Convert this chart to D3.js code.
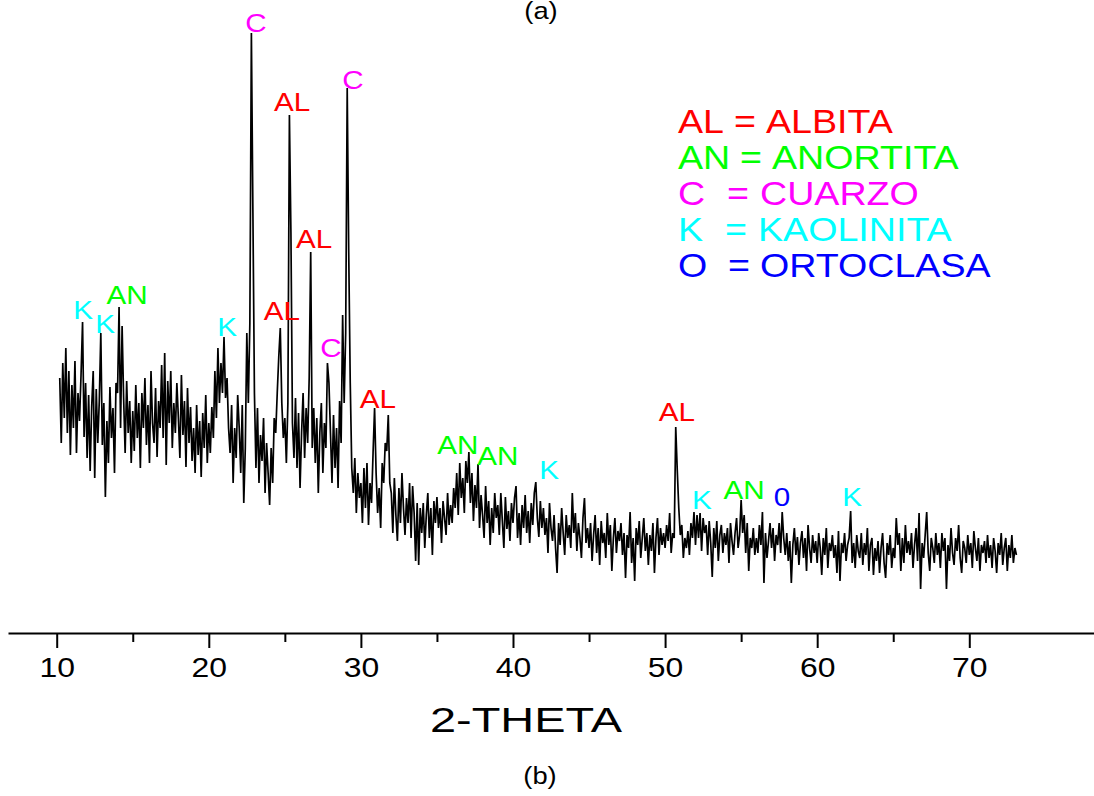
<!DOCTYPE html>
<html>
<head>
<meta charset="utf-8">
<script src="https://cdn.jsdelivr.net/npm/d3@7"></script>
<style>
  html, body { margin: 0; padding: 0; background: #fff; }
  svg { display: block; }
  text { font-family: "Liberation Sans", Arial, sans-serif; }
</style>
</head>
<body>
<svg id="chart" width="1094" height="796"></svg>
<script>
// Diffractogram sampled every 0.1 degree 2-theta, starting at 10.2
const thetaStart = 10.2;
const thetaStep = 0.1;
const intensity = [
  /* 10.2 */ 255, 190, 270, 215, 285, 200, 262, 178,
  /* 11 */ 248, 205, 272, 180, 240, 212, 258, 311, 196, 250,
  /* 12 */ 175, 238, 162, 226, 262, 155, 244, 190, 232, 300,
  /* 13 */ 188, 230, 136, 212, 170, 246, 195, 225, 160, 250,
  /* 14 */ 240, 326, 205, 307, 235, 180, 252, 200, 232, 170,
  /* 15 */ 222, 182, 248, 195, 230, 165, 240, 205, 255, 188,
  /* 16 */ 228, 170, 262, 210, 190, 245, 176, 232, 205, 268,
  /* 17 */ 195, 280, 168, 252, 210, 262, 185, 230, 200, 250,
  /* 18 */ 215, 175, 258, 198, 232, 166, 245, 190, 226, 172,
  /* 19 */ 205, 160, 228, 178, 212, 156, 220, 185, 238, 170,
  /* 20 */ 210, 180, 226, 195, 262, 215, 285, 230, 270, 240,
  /* 21 */ 296, 235, 255, 205, 180, 228, 150, 205, 175, 238,
  /* 22 */ 205, 160, 228, 130, 185, 300, 230, 310, 600, 420,
  /* 23 */ 240, 165, 225, 150, 198, 172, 215, 140, 190, 160,
  /* 24 */ 128, 185, 150, 215, 200, 240, 276, 305, 230, 195,
  /* 25 */ 215, 170, 230, 518, 400, 210, 175, 235, 165, 220,
  /* 26 */ 145, 200, 240, 175, 225, 190, 255, 381, 185, 225,
  /* 27 */ 170, 215, 140, 200, 230, 160, 210, 185, 270, 250,
  /* 28 */ 200, 150, 218, 165, 205, 145, 232, 190, 318, 230,
  /* 29 */ 300, 545, 380, 250, 165, 140, 175, 120, 160, 135,
  /* 30 */ 150, 110, 165, 125, 170, 108, 150, 130, 180, 225,
  /* 31 */ 160, 120, 145, 105, 170, 150, 190, 182, 218, 150,
  /* 32 */ 140, 100, 155, 118, 92, 145, 110, 160, 125, 98,
  /* 33 */ 135, 110, 150, 95, 147, 120, 72, 130, 68, 125,
  /* 34 */ 100, 130, 85, 118, 140, 95, 125, 78, 132, 110,
  /* 35 */ 136, 105, 125, 90, 132, 115, 98, 140, 108, 128,
  /* 36 */ 110, 145, 125, 160, 118, 170, 135, 155, 120, 172,
  /* 37 */ 150, 181, 130, 160, 112, 148, 125, 169, 105, 138,
  /* 38 */ 118, 95, 147, 110, 132, 88, 125, 100, 140, 115,
  /* 39 */ 128, 98, 140, 112, 85, 136, 104, 122, 92, 130,
  /* 40 */ 110, 135, 147, 95, 120, 88, 128, 105, 138, 100,
  /* 41 */ 122, 90, 130, 108, 140, 151, 115, 96, 132, 105,
  /* 42 */ 125, 98, 115, 80, 130, 105, 92, 118, 85, 60,
  /* 43 */ 110, 88, 125, 100, 78, 118, 95, 108, 85, 140,
  /* 44 */ 100, 120, 82, 110, 95, 75, 115, 135, 90, 105,
  /* 45 */ 85, 110, 72, 98, 118, 80, 105, 68, 112, 90,
  /* 46 */ 100, 75, 120, 88, 108, 62, 95, 115, 80, 102,
  /* 47 */ 92, 110, 78, 100, 55, 98, 85, 121, 70, 95,
  /* 48 */ 52, 105, 88, 112, 75, 95, 115, 82, 100, 68,
  /* 49 */ 98, 82, 110, 60, 95, 115, 78, 105, 88, 100,
  /* 50 */ 85, 108, 92, 120, 80, 100, 95, 206, 163, 125,
  /* 51 */ 98, 108, 75, 95, 85, 102, 78, 110, 95, 121,
  /* 52 */ 88, 118, 95, 120, 82, 115, 100, 108, 78, 112,
  /* 53 */ 90, 56, 105, 85, 112, 72, 98, 108, 80, 100,
  /* 54 */ 88, 105, 70, 110, 92, 78, 100, 115, 85, 98,
  /* 55 */ 133, 100, 118, 80, 110, 62, 95, 85, 105, 78,
  /* 56 */ 95, 80, 108, 88, 121, 50, 100, 75, 92, 110,
  /* 57 */ 85, 105, 72, 98, 88, 110, 80, 121, 95, 78,
  /* 58 */ 100, 72, 92, 50, 88, 105, 78, 96, 68, 90,
  /* 59 */ 102, 75, 95, 62, 108, 85, 70, 98, 80, 92,
  /* 60 */ 70, 100, 85, 58, 95, 78, 105, 65, 90, 82,
  /* 61 */ 98, 75, 88, 60, 102, 52, 90, 80, 100, 72,
  /* 62 */ 88, 95, 122, 70, 90, 65, 98, 82, 75, 100,
  /* 63 */ 68, 90, 78, 105, 62, 88, 95, 58, 85, 72,
  /* 64 */ 92, 60, 85, 100, 70, 55, 90, 78, 98, 65,
  /* 65 */ 85, 75, 115, 88, 100, 62, 95, 70, 108, 80,
  /* 66 */ 92, 78, 100, 65, 88, 105, 72, 120, 44, 90,
  /* 67 */ 75, 98, 121, 80, 62, 95, 85, 70, 100, 78,
  /* 68 */ 90, 65, 100, 82, 95, 44, 88, 72, 105, 80,
  /* 69 */ 68, 95, 82, 108, 75, 60, 92, 85, 70, 98,
  /* 70 */ 78, 90, 65, 102, 85, 72, 95, 62, 88, 80,
  /* 71 */ 92, 70, 98, 75, 88, 65, 95, 82, 60, 90,
  /* 72 */ 78, 100, 68, 85, 95, 62, 88, 75, 98, 70,
  /* 73 */ 85, 78
];

// Axis ticks
const majorTicks = [10, 20, 30, 40, 50, 60, 70];
const minorTicks = [15, 25, 35, 45, 55, 65];
const axisTitle = "2-THETA";

// Phase identification labels
const peakLabels = ["K", "K", "AN", "K", "C", "AL", "AL", "C", "AL", "C", "AL", "AN", "AN", "K", "AL", "K", "AN", "0", "K"];
const peakTheta  = [11.73, 13.18, 14.62, 21.2, 23.1, 24.81, 25.47, 28.03, 26.92, 29.48, 31.12, 36.38, 39.01, 42.37, 50.78, 52.42, 55.19, 57.69, 62.29];
const peakLevel  = [314, 300, 329, 297, 601, 313, 522, 276, 385, 544, 225, 179, 168, 154, 212, 124, 134, 127, 127];

// Legend
const phaseCodes = ["AL", "AN", "C", "K", "O"];
const phaseNames = ["ALBITA", "ANORTITA", "CUARZO", "KAOLINITA", "ORTOCLASA"];
const phaseColor = { AL: "#ff0000", AN: "#00ff00", C: "#ff00ff", K: "#00ffff", O: "#0000ff", "0": "#0000ff" };

const points = intensity.map((v, i) => ({ theta: (Math.round(thetaStart * 10) + i) * thetaStep, value: v }));

const svg = d3.select("#chart");
const x = d3.scaleLinear().domain([6.798, 78.2]).range([8, 1094]);
const y = d3.scaleLinear().domain([0, 600]).range([633, 33]);
const SX = 1.14;

function label(g, str, px, py, size, color, anchor) {
  return g.append("text")
    .attr("transform", `translate(${px},${py}) scale(${SX},1)`)
    .attr("text-anchor", anchor)
    .attr("font-size", size)
    .attr("fill", color)
    .text(str);
}

// Trace
svg.append("path")
  .datum(points)
  .attr("fill", "none")
  .attr("stroke", "#000")
  .attr("stroke-width", 1.7)
  .attr("stroke-linejoin", "miter")
  .attr("d", d3.line().x(d => x(d.theta)).y(d => y(d.value)));

// X axis: major ticks with labels, minor ticks without
const axisG = svg.append("g").attr("transform", `translate(0,${y(0)})`);
axisG.call(d3.axisBottom(x).tickValues(majorTicks).tickSize(15).tickSizeOuter(0).tickFormat(d3.format("d")));
axisG.select(".domain").attr("stroke-width", 2);
axisG.selectAll(".tick line").attr("stroke-width", 2);
axisG.selectAll(".tick text")
  .attr("y", 44).attr("dy", null)
  .attr("font-size", 28)
  .attr("font-family", "Liberation Sans, Arial, sans-serif")
  .attr("fill", "#000")
  .attr("transform", `scale(${SX},1)`);

const minorG = svg.append("g").attr("transform", `translate(0,${y(0)})`);
minorG.call(d3.axisBottom(x).tickValues(minorTicks).tickSize(9).tickSizeOuter(0).tickFormat(""));
minorG.select(".domain").remove();
minorG.selectAll(".tick line").attr("stroke-width", 2);

// Axis title
svg.append("text")
  .attr("x", 430).attr("y", 732)
  .attr("font-size", 35)
  .attr("textLength", 192)
  .attr("lengthAdjust", "spacingAndGlyphs")
  .attr("fill", "#000")
  .text(axisTitle);

// Panel captions
label(svg, "(a)", 541, 19, 24, "#000", "middle");
label(svg, "(b)", 540, 784, 24, "#000", "middle");

// Peak labels
const peakG = svg.append("g");
peakLabels.forEach((t, i) => {
  label(peakG, t, x(peakTheta[i]), y(peakLevel[i]), 26, phaseColor[t], "middle");
});

// Legend
const legG = svg.append("g");
const eqX = { AL: 734, AN: 740, C: 727, K: 725, O: 728 };
const nameX = { AL: 766, AN: 772, C: 760, K: 758, O: 760 };
phaseCodes.forEach((c, i) => {
  const by = 133 + i * 36;
  label(legG, c, 678, by, 33, phaseColor[c], "start");
  label(legG, "=", eqX[c], by, 33, phaseColor[c], "start");
  label(legG, phaseNames[i], nameX[c], by, 33, phaseColor[c], "start");
});
</script>
</body>
</html>
